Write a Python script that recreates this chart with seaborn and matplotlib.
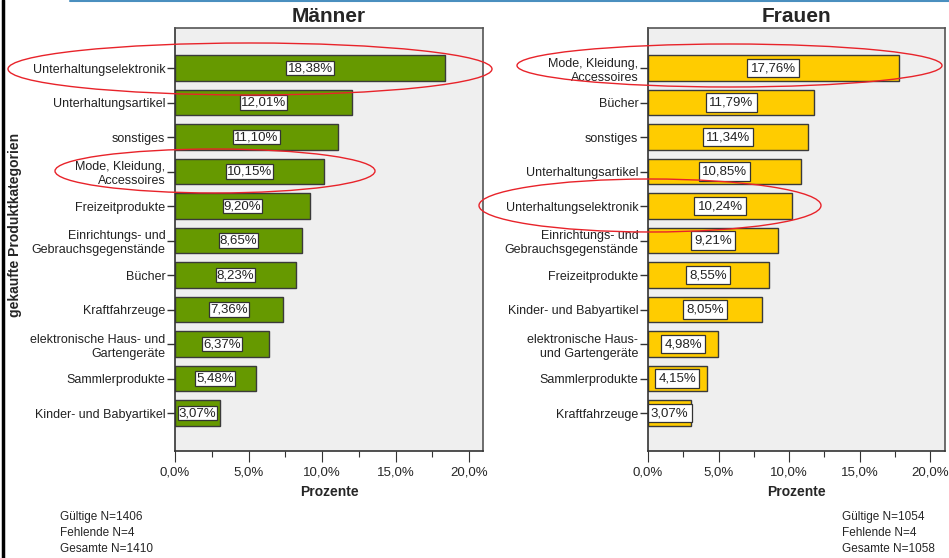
import numpy as np
import pandas as pd
import matplotlib
matplotlib.use("Agg")
import matplotlib.pyplot as plt
from matplotlib.patches import Ellipse
from matplotlib.lines import Line2D
from matplotlib.ticker import MultipleLocator, FuncFormatter
import seaborn as sns

# data
men_cats = ["Unterhaltungselektronik", "Unterhaltungsartikel", "sonstiges",
            "Mode, Kleidung,\nAccessoires", "Freizeitprodukte",
            "Einrichtungs- und\nGebrauchsgegenstände", "Bücher", "Kraftfahrzeuge",
            "elektronische Haus- und\nGartengeräte", "Sammlerprodukte",
            "Kinder- und Babyartikel"]
men_vals = [18.38, 12.01, 11.10, 10.15, 9.20, 8.65, 8.23, 7.36, 6.37, 5.48, 3.07]

women_cats = ["Mode, Kleidung,\nAccessoires", "Bücher", "sonstiges",
              "Unterhaltungsartikel", "Unterhaltungselektronik",
              "Einrichtungs- und\nGebrauchsgegenstände", "Freizeitprodukte",
              "Kinder- und Babyartikel", "elektronische Haus-\nund Gartengeräte",
              "Sammlerprodukte", "Kraftfahrzeuge"]
women_vals = [17.76, 11.79, 11.34, 10.85, 10.24, 9.21, 8.55, 8.05, 4.98, 4.15, 3.07]

men_n = ["Gültige N=1406", "Fehlende N=4", "Gesamte N=1410"]
women_n = ["Gültige N=1054", "Fehlende N=4", "Gesamte N=1058"]

sns.set_style("white")
plt.rcParams['font.family'] = ['Liberation Sans', 'DejaVu Sans']
narrow = ['Liberation Sans Narrow', 'Liberation Sans', 'DejaVu Sans']

W, H = 949, 558
fig = plt.figure(figsize=(W / 100, H / 100), dpi=100)


def px(x0, y0, x1, y1):
    # pixel box -> figure fraction rect
    return [x0 / W, 1 - y1 / H, (x1 - x0) / W, (y1 - y0) / H]


ax_m = fig.add_axes(px(175, 28, 483, 451))
ax_w = fig.add_axes(px(648, 28, 945, 451))


def draw(ax, cats, vals, color, title, xmax, box_pad):
    df = pd.DataFrame({"cat": cats, "val": vals})
    sns.barplot(data=df, x="val", y="cat", orient="h", color=color, saturation=1,
                width=0.75, edgecolor="#3a3a3a", linewidth=1.0, ax=ax)
    ax.set_facecolor("#efefef")
    ax.set_xlim(0, xmax)
    ax.set_ylim(len(cats) - 1 + 1.10, -1.16)
    for i, v in enumerate(vals):
        ax.text(v / 2, i, f"{v:.2f}%".replace(".", ","), ha="center", va="center",
                fontsize=9.5, color="#222222", family=narrow,
                bbox=dict(boxstyle=f"square,pad={box_pad}", fc="white", ec="#333333", lw=0.9))
    ax.set_yticks(range(len(cats)), cats, linespacing=1.25, color="#222222")
    ax.xaxis.set_major_locator(MultipleLocator(5))
    ax.xaxis.set_minor_locator(MultipleLocator(2.5))
    ax.xaxis.set_major_formatter(FuncFormatter(lambda x, p: f"{x:.1f}%".replace(".", ",")))
    ax.tick_params(axis="x", which="major", direction="out", length=8, width=0.8,
                   color="#333333", labelsize=9.5, pad=3, bottom=True)
    ax.tick_params(axis="x", which="minor", direction="out", length=4, width=0.8,
                   color="#333333", bottom=True)
    ax.tick_params(axis="y", direction="out", length=6, width=1, color="#333333",
                   labelsize=9, pad=1, left=True)
    for lab in ax.get_xticklabels():
        lab.set_family(narrow)
    for s in ax.spines.values():
        s.set_visible(True)
        s.set_color("#555555")
        s.set_linewidth(1.2)
    ax.spines["left"].set_color("#333333")
    ax.spines["bottom"].set_color("#333333")
    ax.set_ylabel("")
    ax.set_xlabel("Prozente", fontsize=10, fontweight="bold", family=narrow, labelpad=5)
    ax.set_title(title, fontsize=15, fontweight="bold", pad=4)


draw(ax_m, men_cats, men_vals, "#669900", "Männer", 20.95, 0.08)
draw(ax_w, women_cats, women_vals, "#ffcc00", "Frauen", 21.05, 0.25)

fig.text(15 / W, 1 - 225 / H, "gekaufte Produktkategorien", rotation=90,
         ha="center", va="center", fontsize=10, fontweight="bold")

for k, t in enumerate(men_n):
    fig.text(60 / W, 1 - (517 + 16 * k) / H, t, fontsize=8.5, family=narrow,
             ha="left", va="center")
for k, t in enumerate(women_n):
    fig.text(842 / W, 1 - (517 + 16 * k) / H, t, fontsize=8.5, family=narrow,
             ha="left", va="center")

# frame lines of the slide
fig.add_artist(Line2D([70 / W, 1], [1 - 1 / H, 1 - 1 / H], color="#4a8fbf", lw=1.5))
fig.add_artist(Line2D([2.5 / W, 2.5 / W], [0, 1], color="black", lw=2.5))

# red highlight ellipses (pixel centre, width, height)
ellipses = [(250, 69, 484, 52), (215, 171, 320, 44),
            (729.5, 65.5, 425, 43), (650, 205.5, 342, 53)]
for cx, cy, ew, eh in ellipses:
    fig.add_artist(Ellipse((cx / W, 1 - cy / H), ew / W, eh / H, fill=False,
                           ec="#e8232a", lw=1.0, transform=fig.transFigure))

fig.savefig("out.png", dpi=100)
